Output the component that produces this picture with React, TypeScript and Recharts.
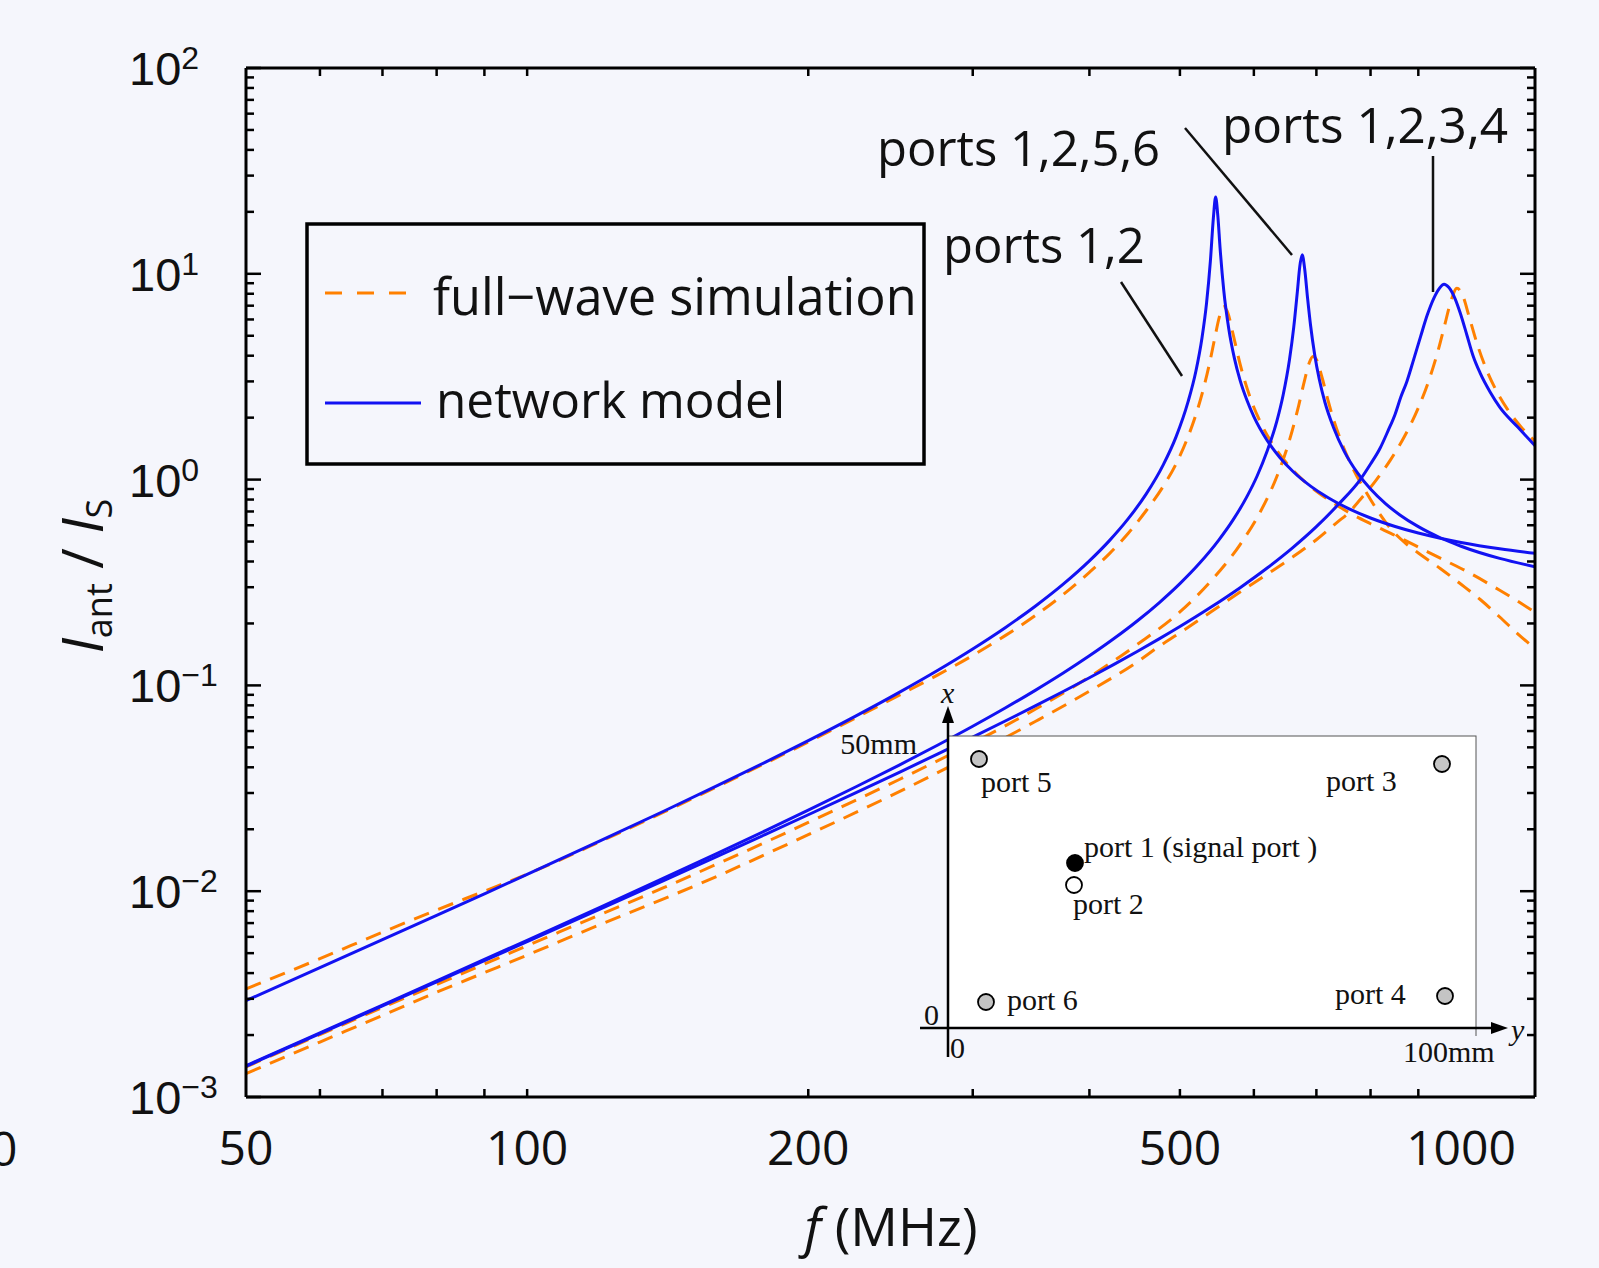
import React from 'react';
import { LineChart, Line, XAxis, YAxis } from 'recharts';

// ---------- data ----------
// network model, ports 1,2
const freqNet12 = [50, 60, 70, 80, 90, 100, 120, 140, 160, 180, 200, 225, 250, 275, 300, 325, 350, 375, 400, 420, 440, 460, 480, 495, 510, 520, 528, 534, 539, 543, 546, 549, 552, 557, 564, 572, 580, 590, 600, 620, 640, 660, 690, 720, 760, 800, 850, 900, 950, 1000, 1100, 1200];
const ampNet12 = [0.00294, 0.00425, 0.00581, 0.00763, 0.00971, 0.01206, 0.01764, 0.02446, 0.03265, 0.04239, 0.05387, 0.0711, 0.0922, 0.1181, 0.1503, 0.1907, 0.2425, 0.3104, 0.4027, 0.5038, 0.6439, 0.8502, 1.183, 1.604, 2.378, 3.35, 4.888, 7.24, 11.51, 18.7, 23.6, 19.1, 13.4, 8.36, 5.405, 3.868, 3.033, 2.421, 2.022, 1.549, 1.277, 1.101, 0.9298, 0.818, 0.7184, 0.6507, 0.5918, 0.55, 0.5191, 0.4952, 0.4612, 0.4384];

// full-wave simulation, ports 1,2
const freqSim12 = [50, 60, 70, 80, 90, 100, 120, 140, 160, 180, 200, 225, 250, 275, 300, 325, 350, 375, 400, 420, 440, 460, 480, 495, 510, 520, 530, 538, 545, 551, 557, 563, 570, 580, 595, 610, 630, 650, 675, 700, 725, 755, 800, 850, 900, 950, 1000, 1100, 1200];
const ampSim12 = [0.00335, 0.0047, 0.00632, 0.0081, 0.01, 0.0121, 0.0175, 0.0242, 0.0323, 0.0419, 0.0531, 0.0697, 0.0894, 0.1122, 0.1398, 0.1745, 0.2183, 0.2763, 0.3544, 0.4358, 0.5473, 0.7057, 0.93, 1.186, 1.611, 2.061, 2.774, 3.691, 4.896, 6.157, 6.92, 6.416, 5.097, 3.637, 2.482, 1.894, 1.46, 1.207, 1.008, 0.878, 0.787, 0.7, 0.61, 0.535, 0.47, 0.415, 0.37, 0.29, 0.227];

// network model, ports 1,2,5,6
const freqNet1256 = [50, 60, 70, 80, 90, 100, 120, 140, 160, 180, 200, 225, 250, 275, 300, 325, 350, 375, 400, 425, 450, 475, 500, 525, 550, 570, 590, 605, 620, 635, 645, 655, 662, 668, 672, 676, 680, 685, 690, 697, 705, 715, 730, 750, 775, 800, 830, 860, 900, 950, 1000, 1100, 1200];
const ampNet1256 = [0.00142, 0.00205, 0.002798, 0.003667, 0.004658, 0.005776, 0.0084, 0.01157, 0.01532, 0.0197, 0.02477, 0.03217, 0.04091, 0.0512, 0.06333, 0.07763, 0.09459, 0.1148, 0.1392, 0.1689, 0.2056, 0.2521, 0.3123, 0.393, 0.5067, 0.6369, 0.8285, 1.044, 1.376, 1.923, 2.584, 3.812, 5.504, 8.243, 10.9, 12.36, 10.61, 7.589, 5.62, 4.056, 3.074, 2.37, 1.797, 1.367, 1.074, 0.899, 0.764, 0.6735, 0.5907, 0.5217, 0.4744, 0.414, 0.3775];

// full-wave simulation, ports 1,2,5,6
const freqSim1256 = [50, 60, 70, 80, 90, 100, 120, 140, 160, 180, 200, 250, 300, 350, 400, 450, 500, 540, 580, 610, 635, 655, 670, 680, 688, 694, 700, 710, 720, 730, 745, 767, 790, 815, 840, 870, 900, 950, 1000, 1050, 1100, 1150, 1200];
const ampSim1256 = [0.0014, 0.00201, 0.00272, 0.00352, 0.00443, 0.00543, 0.00773, 0.0104, 0.0136, 0.0173, 0.0216, 0.0348, 0.0525, 0.0766, 0.11, 0.158, 0.2274, 0.3223, 0.4834, 0.7009, 1.036, 1.552, 2.283, 3.047, 3.705, 3.96, 3.832, 3.125, 2.447, 1.969, 1.513, 1.12, 0.88, 0.7, 0.58, 0.495, 0.44, 0.37, 0.31, 0.26, 0.215, 0.178, 0.151];

// network model, ports 1,2,3,4
const freqNet1234 = [50, 60, 70, 80, 90, 100, 120, 140, 160, 180, 200, 225, 250, 275, 300, 325, 350, 375, 400, 425, 450, 475, 500, 540, 580, 620, 660, 700, 740, 780, 800, 819, 835, 850, 862, 875, 890, 905, 920, 935, 948, 959, 970, 985, 998, 1015, 1030, 1048, 1075, 1100, 1150, 1200];
const ampNet1234 = [0.00141, 0.002033, 0.002771, 0.003625, 0.004597, 0.005687, 0.008229, 0.011265, 0.014813, 0.018891, 0.023524, 0.030137, 0.037722, 0.046354, 0.056122, 0.067131, 0.079504, 0.093396, 0.10898, 0.12646, 0.1461, 0.16822, 0.19319, 0.24028, 0.29851, 0.37178, 0.46585, 0.59051, 0.76238, 1.0, 1.19, 1.42, 1.72, 2.08, 2.52, 3.0, 3.85, 4.95, 6.3, 7.6, 8.5, 8.9, 8.6, 7.6, 6.45, 5.0, 4.0, 3.3, 2.65, 2.25, 1.8, 1.46];

// full-wave simulation, ports 1,2,3,4
const freqSim1234 = [50, 60, 70, 80, 90, 100, 120, 140, 160, 180, 200, 250, 300, 350, 400, 450, 475, 500, 540, 580, 620, 660, 700, 740, 755, 780, 810, 840, 870, 900, 925, 945, 960, 975, 990, 1005, 1020, 1040, 1060, 1090, 1120, 1160, 1200];
const ampSim1234 = [0.0013, 0.00185, 0.00249, 0.00323, 0.00402, 0.00489, 0.00691, 0.00918, 0.01185, 0.01511, 0.01882, 0.03037, 0.04602, 0.06678, 0.09372, 0.13, 0.1548, 0.18, 0.228, 0.284, 0.347, 0.42, 0.51, 0.63, 0.6785, 0.7998, 0.986, 1.244, 1.624, 2.232, 3.09, 4.243, 5.581, 7.33, 8.51, 7.763, 6.202, 4.595, 3.598, 2.724, 2.214, 1.798, 1.536];

// axis ticks
const xLabelValues = [50, 100, 200, 500, 1000];
const xMarkValues = [60, 70, 80, 90, 100, 200, 300, 400, 500, 600, 700, 800, 900];
const yDecades = [-3, -2, -1, 0, 1, 2];
const yMinorMultipliers = [2, 3, 4, 5, 6, 7, 8, 9];

// ---------- helpers ----------
const toPoints = (f: number[], v: number[]) => f.map((x, i) => ({ f: x, v: v[i] }));
const net12 = toPoints(freqNet12, ampNet12);
const sim12 = toPoints(freqSim12, ampSim12);
const net1256 = toPoints(freqNet1256, ampNet1256);
const sim1256 = toPoints(freqSim1256, ampSim1256);
const net1234 = toPoints(freqNet1234, ampNet1234);
const sim1234 = toPoints(freqSim1234, ampSim1234);

const xTicks = Array.from(new Set([...xLabelValues, ...xMarkValues])).sort((a, b) => a - b);
const yTicks: number[] = [];
yDecades.forEach((d) => {
  yTicks.push(Math.pow(10, d));
  if (d < 2) yMinorMultipliers.forEach((m) => yTicks.push(m * Math.pow(10, d)));
});
yTicks.sort((a, b) => a - b);

const W = 1599;
const H = 1268;
const BG = '#f5f6fc';
const BLUE = '#1212f2';
const ORANGE = '#ff8000';
const SANS = '"Open Sans", "Noto Sans", sans-serif';
const SERIF = '"Liberation Serif", "Times New Roman", serif';

const isMajor = (v: number) => {
  const l = Math.log10(v);
  return Math.abs(l - Math.round(l)) < 1e-6;
};
const MINUS = '\u2212';

const BottomTick = (p: any) => {
  const { x, y, payload } = p;
  const v = payload.value;
  return (
    <g>
      {xMarkValues.includes(v) && <line x1={x} x2={x} y1={y} y2={y - 8} stroke="#000" strokeWidth={2.5} />}
      {xLabelValues.includes(v) && (
        <text x={x} y={y + 68} textAnchor="middle" fontFamily={SANS} fontSize={48} fill="#111">
          {v}
        </text>
      )}
    </g>
  );
};

const TopTick = (p: any) => {
  const { x, y } = p;
  return <line x1={x} x2={x} y1={y} y2={y + 8} stroke="#000" strokeWidth={2.5} />;
};

const LeftTick = (p: any) => {
  const { x, y, payload } = p;
  const v = payload.value;
  const major = isMajor(v);
  const e = Math.round(Math.log10(v));
  return (
    <g>
      <line x1={x} x2={x + (major ? 15 : 8)} y1={y} y2={y} stroke="#000" strokeWidth={2.5} />
      {major && (
        <text x={129} y={y + 17} fontFamily={'"Liberation Sans", "DejaVu Sans", sans-serif'} fontSize={47} fill="#111">
          10
          <tspan fontSize={32} dy={-16}>{e < 0 ? MINUS + Math.abs(e) : String(e)}</tspan>
        </text>
      )}
    </g>
  );
};

const RightTick = (p: any) => {
  const { x, y, payload } = p;
  const major = isMajor(payload.value);
  return <line x1={x} x2={x - (major ? 15 : 8)} y1={y} y2={y} stroke="#000" strokeWidth={2.5} />;
};

const Port = ({ cx, cy, fill }: { cx: number; cy: number; fill: string }) => (
  <circle cx={cx} cy={cy} r={8} fill={fill} stroke="#000" strokeWidth={1.8} />
);

const Overlay = () => (
  <svg width={W} height={H} style={{ position: 'absolute', left: 0, top: 0, pointerEvents: 'none' }}>
    {/* stray digit at the left edge, as in the reference */}
    <text x={-10} y={1166} fontFamily={SANS} fontSize={48} fill="#111">0</text>

    {/* axis titles */}
    <text x={891} y={1246} textAnchor="middle" fontFamily={SANS} fontSize={53} fill="#111">
      <tspan fontStyle="italic">f</tspan> (MHz)
    </text>
    <text x={103} y={576} transform="rotate(-90 103 576)" textAnchor="middle" fontFamily={SANS} fontSize={56} fill="#111">
      <tspan fontStyle="italic">I</tspan>
      <tspan fontSize={36} dy={9}>ant</tspan>
      <tspan dy={-9}> / </tspan>
      <tspan fontStyle="italic">I</tspan>
      <tspan fontSize={36} dy={9}>S</tspan>
    </text>

    {/* legend */}
    <rect x={307} y={224} width={617} height={240} fill="none" stroke="#000" strokeWidth={3.5} />
    <line x1={325} x2={406} y1={293} y2={293} stroke={ORANGE} strokeWidth={3} strokeDasharray="17 15" />
    <text x={433} y={315} fontFamily={SANS} fontSize={50.5} fill="#111">full{'\u2212'}wave simulation</text>
    <line x1={325} x2={421} y1={403} y2={403} stroke={BLUE} strokeWidth={3} />
    <text x={436} y={418} fontFamily={SANS} fontSize={49.5} fill="#111">network model</text>

    {/* annotations */}
    <text x={877} y={166} fontFamily={SANS} fontSize={49} fill="#111">ports 1,2,5,6</text>
    <text x={1222} y={143} fontFamily={SANS} fontSize={49.5} fill="#111">ports 1,2,3,4</text>
    <text x={943} y={263} fontFamily={SANS} fontSize={49} fill="#111">ports 1,2</text>
    <line x1={1121} y1={282} x2={1182} y2={376} stroke="#111" strokeWidth={2.5} />
    <line x1={1185} y1={128} x2={1292} y2={255} stroke="#111" strokeWidth={2.5} />
    <line x1={1433} y1={156} x2={1433} y2={292} stroke="#111" strokeWidth={2.5} />

    {/* inset: port layout */}
    <rect x={948} y={736} width={528} height={292} fill="#ffffff" stroke="#555" strokeWidth={1} />
    <line x1={1476} y1={1028} x2={1476} y2={1036} stroke="#555" strokeWidth={1} />
    <line x1={920} y1={1028} x2={1496} y2={1028} stroke="#000" strokeWidth={2.5} />
    <polygon points="1508,1028 1491,1022 1491,1034" fill="#000" />
    <line x1={948} y1={1057} x2={948} y2={720} stroke="#000" strokeWidth={2.5} />
    <polygon points="948,706 942,723 954,723" fill="#000" />
    <text x={941} y={703} fontFamily={SERIF} fontStyle="italic" fontSize={30} fill="#111">x</text>
    <text x={1511} y={1040} fontFamily={SERIF} fontStyle="italic" fontSize={30} fill="#111">y</text>
    <text x={917} y={754} textAnchor="end" fontFamily={SERIF} fontSize={30} fill="#111">50mm</text>
    <text x={939} y={1025} textAnchor="end" fontFamily={SERIF} fontSize={30} fill="#111">0</text>
    <text x={950} y={1058} fontFamily={SERIF} fontSize={30} fill="#111">0</text>
    <text x={1403} y={1062} fontFamily={SERIF} fontSize={30} fill="#111">100mm</text>

    <Port cx={979} cy={759} fill="#c4c4c4" />
    <text x={981} y={792} fontFamily={SERIF} fontSize={30} fill="#111">port 5</text>
    <Port cx={1442} cy={764} fill="#c4c4c4" />
    <text x={1326} y={791} fontFamily={SERIF} fontSize={30} fill="#111">port 3</text>
    <Port cx={1075} cy={863} fill="#000000" />
    <text x={1084} y={857} fontFamily={SERIF} fontSize={30} fill="#111">port 1 (signal port )</text>
    <Port cx={1074} cy={885} fill="#ffffff" />
    <text x={1073} y={914} fontFamily={SERIF} fontSize={30} fill="#111">port 2</text>
    <Port cx={986} cy={1002} fill="#c4c4c4" />
    <text x={1007} y={1010} fontFamily={SERIF} fontSize={30} fill="#111">port 6</text>
    <Port cx={1445} cy={996} fill="#c4c4c4" />
    <text x={1335} y={1004} fontFamily={SERIF} fontSize={30} fill="#111">port 4</text>
  </svg>
);

const axisLine = { stroke: '#000', strokeWidth: 3 };

export default function App() {
  return (
    <div style={{ position: 'absolute', left: 0, top: 0, width: W, height: H, background: BG, overflow: 'hidden' }}>
      <LineChart width={W} height={H} margin={{ top: 67, right: 63, bottom: 0, left: 0 }}>
        <XAxis
          dataKey="f"
          type="number"
          scale="log"
          domain={[50, 1200]}
          allowDataOverflow
          ticks={xTicks}
          interval={0}
          tickSize={0}
          tickMargin={0}
          tickLine={false}
          axisLine={axisLine}
          height={171}
          tick={(p: any) => <BottomTick {...p} />}
        />
        <XAxis
          xAxisId="top"
          orientation="top"
          dataKey="f"
          type="number"
          scale="log"
          domain={[50, 1200]}
          allowDataOverflow
          ticks={xMarkValues}
          interval={0}
          tickSize={0}
          tickMargin={0}
          tickLine={false}
          axisLine={axisLine}
          height={1}
          tick={(p: any) => <TopTick {...p} />}
        />
        <YAxis
          dataKey="v"
          type="number"
          scale="log"
          domain={[0.001, 100]}
          allowDataOverflow
          ticks={yTicks}
          interval={0}
          tickSize={0}
          tickMargin={0}
          tickLine={false}
          axisLine={axisLine}
          width={246}
          tick={(p: any) => <LeftTick {...p} />}
        />
        <YAxis
          yAxisId="right"
          orientation="right"
          dataKey="v"
          type="number"
          scale="log"
          domain={[0.001, 100]}
          allowDataOverflow
          ticks={yTicks}
          interval={0}
          tickSize={0}
          tickMargin={0}
          tickLine={false}
          axisLine={axisLine}
          width={1}
          tick={(p: any) => <RightTick {...p} />}
        />
        <Line data={sim12} dataKey="v" type="monotoneX" stroke={ORANGE} strokeWidth={3} strokeDasharray="16 10" dot={false} isAnimationActive={false} />
        <Line data={sim1256} dataKey="v" type="monotoneX" stroke={ORANGE} strokeWidth={3} strokeDasharray="16 10" dot={false} isAnimationActive={false} />
        <Line data={sim1234} dataKey="v" type="monotoneX" stroke={ORANGE} strokeWidth={3} strokeDasharray="16 10" dot={false} isAnimationActive={false} />
        <Line data={net12} dataKey="v" type="monotoneX" stroke={BLUE} strokeWidth={3} dot={false} isAnimationActive={false} />
        <Line data={net1256} dataKey="v" type="monotoneX" stroke={BLUE} strokeWidth={3} dot={false} isAnimationActive={false} />
        <Line data={net1234} dataKey="v" type="monotoneX" stroke={BLUE} strokeWidth={3} dot={false} isAnimationActive={false} />
      </LineChart>
      <Overlay />
    </div>
  );
}
